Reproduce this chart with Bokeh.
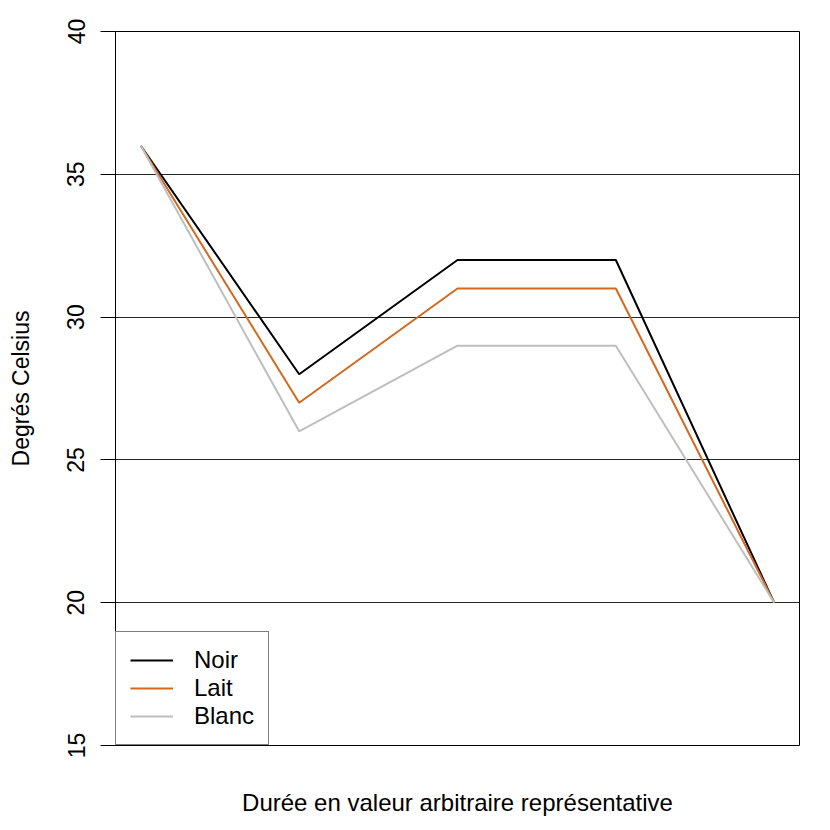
from bokeh.plotting import figure
from bokeh.models import Range1d, FixedTicker, Legend, LegendItem, LinearAxis
from bokeh.embed import file_html
from bokeh.resources import INLINE

# Data
steps = [1, 2, 3, 4, 5]
noir = [36, 28, 32, 32, 20]
lait = [36, 27, 31, 31, 20]
blanc = [36, 26, 29, 29, 20]
series_names = ["Noir", "Lait", "Blanc"]
series_colors = ["#000000", "#D2691E", "#BEBEBE"]
y_ticks = [15, 20, 25, 30, 35, 40]
x_label = "Durée en valeur arbitraire représentative"
y_label = "Degrés Celsius"

FONT = "Liberation Sans"
FS_H = "24px"
FS_V = "23px"

p = figure(width=822, height=822, output_backend="svg", toolbar_location=None,
           x_range=Range1d(0.84, 5.16), y_range=Range1d(15, 40),
           min_border_left=115, min_border_right=23, min_border_top=31,
           min_border_bottom=77, x_axis_location=None, y_axis_location=None)
p.background_fill_color = "white"
p.border_fill_color = "white"
p.outline_line_color = "black"
p.outline_line_width = 1

yaxis = LinearAxis(ticker=FixedTicker(ticks=y_ticks))
yaxis.axis_label = y_label
yaxis.axis_label_text_font = FONT
yaxis.axis_label_text_font_size = FS_V
yaxis.axis_label_text_font_style = "normal"
yaxis.axis_label_text_color = "black"
yaxis.axis_label_standoff = 31
yaxis.major_label_text_font = FONT
yaxis.major_label_text_font_size = FS_V
yaxis.major_label_text_color = "black"
yaxis.major_label_orientation = "vertical"
yaxis.major_label_standoff = 16
yaxis.major_tick_out = 15
yaxis.major_tick_in = 0
yaxis.major_tick_line_color = "black"
yaxis.minor_tick_line_color = None
yaxis.axis_line_color = "black"
p.add_layout(yaxis, "left")

xaxis = LinearAxis(ticker=FixedTicker(ticks=[]))
xaxis.axis_label = x_label
xaxis.axis_label_text_font = FONT
xaxis.axis_label_text_font_size = FS_H
xaxis.axis_label_text_font_style = "normal"
xaxis.axis_label_text_color = "black"
xaxis.axis_label_standoff = 43
xaxis.axis_line_color = None
xaxis.major_tick_line_color = None
xaxis.minor_tick_line_color = None
xaxis.major_tick_out = 0
xaxis.major_label_text_font_size = "0px"
p.add_layout(xaxis, "below")

p.xgrid.visible = False
p.ygrid.ticker = FixedTicker(ticks=y_ticks)
p.ygrid.grid_line_color = "black"
p.ygrid.grid_line_width = 1
p.ygrid.grid_line_alpha = 0.85

renderers = []
for vals, c in zip([noir, lait, blanc], series_colors):
    r = p.line(steps, vals, line_color=c, line_width=2)
    renderers.append(r)

legend = Legend(items=[LegendItem(label=n, renderers=[r]) for n, r in zip(series_names, renderers)],
                location="bottom_left")
legend.margin = 0
legend.padding = 14
legend.spacing = 0
legend.glyph_width = 43
legend.glyph_height = 28
legend.label_height = 28
legend.label_standoff = 21
legend.label_text_font = FONT
legend.label_text_font_size = FS_H
legend.label_text_color = "black"
legend.border_line_color = "black"
legend.border_line_width = 1
legend.background_fill_color = "white"
legend.background_fill_alpha = 1
p.add_layout(legend, "center")

open("out.html", "w").write(file_html(p, INLINE))
